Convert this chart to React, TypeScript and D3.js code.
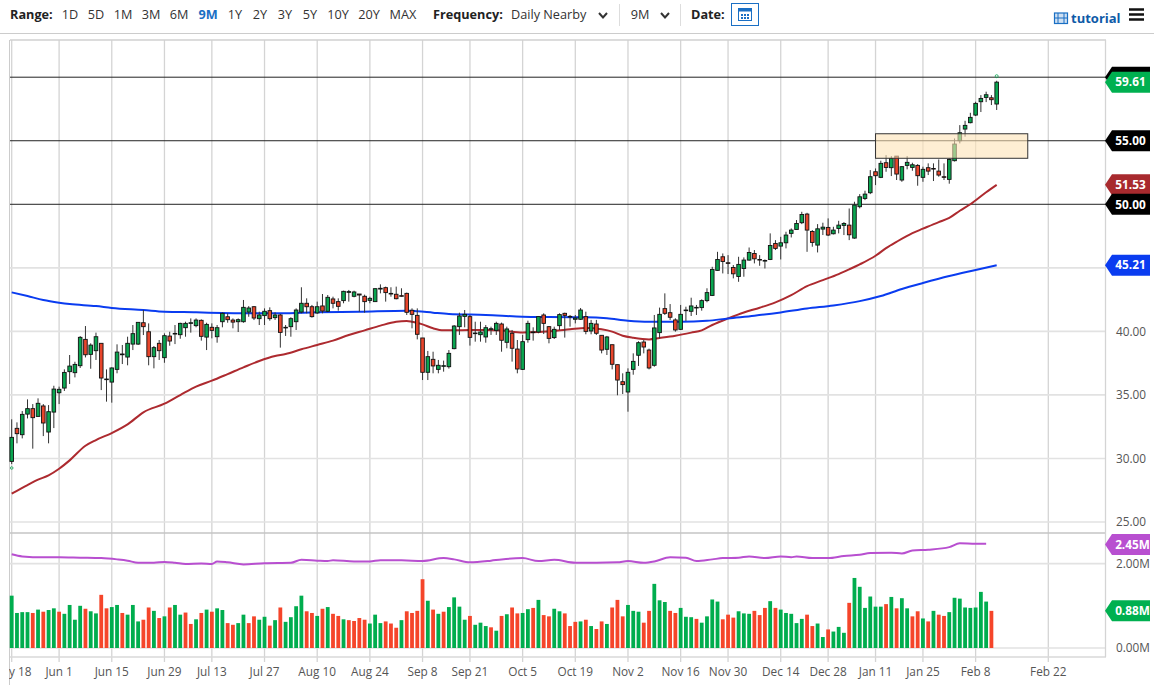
import * as d3 from 'd3'

const opens = [
  29.77,32.37,31.87,33.49,33.92,33.31,34.13,32.08,33.65,35.17,35.54,36.83,36.75,37.3,39.37,38.19,38.48,39.06,36.2,36.01,
  37.01,38.16,37.98,39.0,39.0,40.68,39.97,38.01,39.06,37.93,39.63,39.79,39.74,40.29,40.63,40.45,40.87,39.55,40.32,39.58,
  40.76,41.15,40.89,40.76,40.76,41.52,41.94,41.0,41.24,41.63,41.08,41.29,40.27,40.37,40.76,41.52,42.21,41.94,41.45,42.0,
  41.58,42.55,42.34,42.42,43.07,42.76,42.94,42.76,42.44,42.34,43.33,43.44,42.94,42.92,42.81,42.99,41.66,41.26,39.48,36.78,
  37.8,37.01,37.25,37.22,38.64,40.37,41.18,41.16,39.82,39.74,39.56,40.16,40.08,40.58,39.14,39.85,38.61,37.01,39.35,39.9,
  39.95,41.29,40.37,39.51,40.45,41.42,41.18,40.95,40.95,41.16,40.03,40.58,39.69,38.59,38.95,37.38,36.04,35.23,37.01,38.12,
  39.16,38.53,37.33,39.9,41.79,41.47,40.9,40.16,41.63,41.58,41.84,41.87,42.42,42.83,44.8,45.87,45.4,45.03,44.32,44.95,
  45.61,46.13,45.66,45.53,45.66,46.92,46.71,46.97,47.71,48.02,48.55,49.23,47.86,46.79,48.05,48.18,47.68,48.1,48.34,48.36,
  47.34,49.81,50.46,50.91,52.56,52.12,53.27,52.88,53.79,51.91,53.06,52.9,53.06,52.12,52.88,52.82,52.61,52.17,51.96,53.43,
  55.0,55.92,56.42,57.02,58.07,58.41,58.38,57.89,
]
const highs = [
  33.08,32.84,33.73,34.65,34.28,34.73,34.28,34.2,35.72,35.65,37.01,38.14,37.61,39.63,40.42,39.06,39.9,39.06,37.01,37.17,
  38.98,38.93,39.58,40.5,40.71,41.68,40.63,38.85,39.32,39.84,39.97,40.5,40.68,40.76,41.02,41.02,40.94,40.68,40.63,40.5,
  41.5,41.42,41.02,41.02,42.47,41.99,41.99,41.55,41.81,41.89,41.5,41.37,40.5,41.11,41.81,43.47,42.6,42.08,42.34,42.94,
  42.86,42.73,42.6,43.2,43.26,43.2,42.94,42.89,42.73,43.39,43.7,43.52,43.47,43.52,43.39,43.05,41.81,41.81,39.48,38.46,
  38.4,37.75,37.7,38.53,40.5,41.47,41.68,41.29,40.76,40.76,40.5,40.37,40.76,40.69,40.37,40.11,39.32,39.72,40.84,40.32,
  41.21,41.42,40.42,40.37,41.42,41.47,41.29,41.29,41.84,41.55,40.9,40.9,39.69,39.64,38.95,37.38,36.7,37.09,38.27,39.22,
  39.32,38.64,41.29,41.87,42.99,42.15,41.03,42.08,41.94,42.65,42.08,42.52,43.39,45.08,46.26,46.13,46.0,45.22,45.87,45.82,
  46.6,46.4,46.0,45.66,47.71,47.18,47.44,47.84,48.1,48.76,49.41,49.33,47.97,48.44,48.55,48.89,48.23,48.7,48.6,49.67,
  50.2,50.8,51.07,52.69,52.82,53.43,53.87,53.79,53.79,53.01,53.79,53.27,53.16,52.96,53.22,53.22,53.53,53.22,53.61,55.18,
  56.23,56.57,57.2,58.07,58.59,58.86,58.59,59.72,
]
const lows = [
  29.56,31.19,31.58,33.15,30.77,33.29,31.76,31.19,32.39,34.28,35.31,35.86,36.38,37.12,37.95,37.06,37.75,35.38,34.47,34.39,
  36.7,37.43,37.33,38.53,38.93,39.71,37.33,37.09,37.75,37.53,38.87,39.0,39.42,39.58,39.9,40.32,39.27,38.53,39.45,39.11,
  40.32,40.68,40.24,39.95,40.68,41.15,40.89,40.5,40.5,40.84,40.9,38.72,39.64,39.58,40.11,41.42,41.42,41.08,41.37,41.42,
  41.52,41.81,41.63,42.21,42.34,42.68,41.55,41.47,42.21,42.34,42.99,42.34,42.73,42.52,42.73,41.29,40.24,39.37,36.17,36.17,
  36.7,36.7,36.83,37.07,38.59,39.72,40.32,38.88,39.19,39.19,39.11,39.72,39.72,38.4,38.67,37.62,36.7,36.96,39.11,39.27,
  39.85,39.79,39.06,39.4,40.11,39.51,40.37,40.63,40.9,39.77,39.77,39.72,38.27,38.14,37.01,34.97,35.07,33.68,36.59,37.28,
  38.27,37.01,37.22,39.45,41.29,40.9,39.98,40.11,40.82,41.21,41.29,41.63,42.29,42.78,44.77,44.56,44.51,44.17,43.9,44.3,
  45.56,45.35,45.16,44.95,45.61,46.4,45.66,46.53,47.39,48.02,48.44,46.26,46.66,46.21,47.58,47.5,47.63,47.71,47.58,47.18,
  47.29,49.68,50.33,50.8,51.51,52.06,52.56,52.22,51.91,51.77,52.75,52.64,51.46,51.77,52.3,51.83,52.17,51.91,51.62,53.37,
  54.79,55.32,56.37,56.94,57.26,58.04,57.81,57.42,
]
const closes = [
  31.66,31.95,33.47,33.92,33.21,34.34,32.79,33.68,35.46,35.44,36.77,37.27,37.4,39.53,38.16,38.92,39.58,36.33,36.25,37.12,
  38.37,38.22,39.06,39.82,40.71,40.37,38.01,38.72,38.48,39.66,39.24,39.84,40.63,40.63,40.68,40.89,39.61,40.55,40.08,40.29,
  41.42,40.92,40.73,40.92,41.89,41.84,41.05,41.29,41.58,41.0,41.29,39.92,40.32,41.0,41.68,42.21,41.94,41.16,41.94,41.6,
  42.68,42.21,41.97,43.15,43.13,43.1,42.86,42.34,42.6,43.36,43.39,43.05,42.99,42.57,42.76,41.5,41.34,39.77,36.78,38.01,
  37.28,37.33,37.3,38.27,40.42,41.21,41.34,39.53,39.87,39.95,40.29,40.21,40.63,39.3,40.19,38.67,37.04,39.19,40.63,39.95,
  41.16,40.63,39.45,40.16,41.32,41.26,41.13,41.05,41.68,40.0,40.63,39.85,38.53,39.56,37.41,36.17,35.81,36.78,37.64,39.11,
  38.77,37.12,40.27,41.34,41.42,41.11,40.11,41.34,41.68,42.0,41.89,42.42,43.05,44.87,45.66,45.5,45.35,44.53,45.27,45.61,
  46.21,45.71,45.61,45.58,46.76,46.53,46.97,47.58,47.97,48.49,49.2,47.97,47.0,48.07,48.2,47.58,47.97,48.36,48.49,47.6,
  49.94,50.59,50.8,52.17,52.25,53.22,52.9,53.61,52.38,52.96,53.3,53.11,52.25,52.75,52.61,52.77,52.3,52.12,53.53,54.74,
  55.63,56.21,56.84,57.94,58.33,58.62,58.23,59.61,
]

const volumes = [
  1.24,.83,.85,.85,.83,.91,.86,.9,.94,.86,.81,1.02,.67,1.0,.93,.87,.82,1.26,.94,.97,
  1.02,.83,.79,1.02,.63,.67,.96,.88,.71,.75,.96,1.02,.79,.84,.57,.68,.83,.91,.86,.94,
  .9,.59,.55,.59,.79,.59,.75,.67,.74,.53,.66,.96,.62,.73,.99,1.24,.87,.83,.76,.93,
  .97,.81,.76,.68,.66,.64,.71,.67,.58,.79,.59,.63,.58,.48,.66,.87,.83,.88,1.63,1.12,
  .91,.81,.86,.97,1.2,.98,.67,.76,.55,.6,.52,.49,.41,.76,.8,.96,.82,.83,.92,.95,
  1.14,.78,.75,.93,.87,.82,.52,.62,.63,.67,.52,.45,.63,.57,.96,1.14,.75,1.02,.88,.86,
  .6,.88,1.52,1.13,1.09,.88,.83,.95,.74,.73,.69,.6,.75,1.15,1.1,.68,.79,.72,.87,.82,
  .81,.88,.78,.95,1.11,.95,.91,.83,.81,.59,.69,.79,.52,.58,.26,.44,.39,.5,.36,1.07,
  1.66,1.45,.95,1.22,.98,.98,1.04,1.21,.94,1.18,.94,.75,.87,.7,.63,.88,.79,.76,.85,1.19,
  1.17,.96,.95,.96,1.33,1.1,.88,
]
const volumeSides = [
  'ggggrgrggr','ggggrggrrg','grgggrrgrg','rggrrgrgrg','grrggrrggr','grggggrrgr','grrgrrrrgg','grrrgrrrrg',
  'rgrggggrgg','grgrgrrggr','grrggrrrgr','grrgrrrggg','rrgggrrggg','rggggrrrgg','grrrgrgggg','grrggrgggr',
  'ggggggrgrg','grrgrgrrgg','ggggggr',
].join('')

const redIdx = [0,3,5,7,9,11,14,16,19,22,25,29,32,35,38,41,44,47,50,52,55,58,61,64,67,70,73,75,76,78,80,82,84,87,90,93,97,100,103,106,109,112,114,116,118,121,123,126,129,131,133,136,139,142,145,148,151,154,157,159,161,164,166,168,171,173,176,178,180,182,185,187]
const redVals = [27.23,27.91,28.33,28.67,29.19,29.85,31.0,31.45,32.0,32.68,33.63,34.31,34.99,35.65,36.12,36.64,37.17,37.67,38.06,38.22,38.59,38.93,39.27,39.72,40.08,40.45,40.76,40.82,40.76,40.55,40.24,40.08,40.08,40.11,40.11,40.06,39.92,39.95,40.03,40.16,40.27,40.16,39.98,39.66,39.5,39.37,39.48,39.66,39.9,40.08,40.5,41.02,41.49,41.86,42.28,42.85,43.56,44.03,44.51,44.88,45.27,45.95,46.55,47.05,47.73,48.08,48.6,48.93,49.49,50.0,50.95,51.53]
const blueIdx = [0,3,6,9,11,16,19,25,29,35,40,44,47,51,58,66,75,77,80,83,90,97,102,109,113,117,121,124,127,132,136,141,146,151,156,161,165,169,173,178,183,187]
const blueVals = [43.07,42.78,42.47,42.26,42.15,41.99,41.84,41.68,41.55,41.5,41.44,41.42,41.42,41.42,41.5,41.55,41.63,41.58,41.47,41.37,41.29,41.16,41.13,41.11,41.03,40.84,40.76,40.76,40.76,40.83,41.02,41.23,41.49,41.8,42.04,42.38,42.78,43.33,43.8,44.35,44.83,45.21]
const avgIdx = [0,2,6,9,13,17,20,22,24,27,29,31,33,36,38,39,41,44,48,53,55,58,60,61,65,68,70,74,78,82,84,87,91,93,97,100,103,107,111,115,117,120,122,125,128,130,133,135,138,140,143,146,148,149,152,155,158,161,163,167,169,171,174,178,180,183,185]
const avgVals = [2.22,2.17,2.15,2.15,2.14,2.13,2.1,2.07,2.02,2.02,2.04,2.02,1.99,2.0,1.99,2.05,2.03,1.98,2.01,2.02,2.09,2.07,2.06,2.08,2.05,2.05,2.08,2.08,2.06,2.13,2.1,2.03,2.07,2.1,2.13,2.06,2.09,2.02,2.02,2.03,2.06,2.02,2.05,2.15,2.14,2.06,2.1,2.13,2.14,2.17,2.13,2.17,2.15,2.17,2.13,2.13,2.18,2.21,2.25,2.26,2.24,2.31,2.33,2.39,2.48,2.47,2.47]

const dateLabels = ['May 18','Jun 1','Jun 15','Jun 29','Jul 13','Jul 27','Aug 10','Aug 24','Sep 8','Sep 21','Oct 5','Oct 19','Nov 2','Nov 16','Nov 30','Dec 14','Dec 28','Jan 11','Jan 25','Feb 8','Feb 22']
const dateIdx = [0,9,19,29,38,48,58,68,78,87,97,107,117,127,136,146,155,164,173,183,196.8]
const priceTicks = [25,30,35,40,45]
const levelLines = [50,55,60]
const rangeLabels = ['1D','5D','1M','3M','6M','9M','1Y','2Y','3Y','5Y','10Y','20Y','MAX']
const rangeX = [70,96,123,151,179,208,235,260,285,310,338,369,403]

const GREEN = '#0aa550'
const RED = '#e8452b'
const font = '"Open Sans", sans-serif'

const x = d3.scaleLinear([0, 196.8], [11.7, 1048.3])
const y = d3.scaleLinear([25, 60], [522, 77.2])
const yVol = d3.scaleLinear([0, 2], [648, 563.6])

function Tag({ cy, fill, label, tx = 1130.5 }: { cy: number; fill: string; label: string; tx?: number }) {
  const h = 10.5
  const d = `M1105,${cy} L1112,${cy - h} H1150 V${cy + h} H1112 Z`
  return (
    <g>
      <path d={d} fill={fill} />
      <text x={tx} y={cy + 4.3} fill="#fff" fontSize={11.8} fontWeight={700} textAnchor="middle">
        {label}
      </text>
    </g>
  )
}

function Toolbar() {
  const chevron = (cx: number) => (
    <path d={`M${cx - 4},13 L${cx},17.5 L${cx + 4},13`} fill="none" stroke="#333" strokeWidth={2} />
  )
  return (
    <g fontSize={12.7} fill="#333">
      <text x={10} y={18.5} fontWeight={700} fill="#222">Range:</text>
      {rangeLabels.map((r, i) => (
        <text
          key={r}
          x={rangeX[i]}
          y={18.5}
          textAnchor="middle"
          fontWeight={r === '9M' ? 700 : 400}
          fill={r === '9M' ? '#1a6fc4' : '#333'}
        >
          {r}
        </text>
      ))}
      <text x={433} y={18.5} fontWeight={700} fill="#222">Frequency:</text>
      <text x={511} y={18.5}>Daily Nearby</text>
      {chevron(603)}
      <line x1={619.5} x2={619.5} y1={4} y2={26} stroke="#ddd" />
      <text x={640} y={18.5} textAnchor="middle">9M</text>
      {chevron(665)}
      <line x1={680.5} x2={680.5} y1={4} y2={26} stroke="#ddd" />
      <text x={691} y={18.5} fontWeight={700} fill="#222">Date:</text>
      <rect x={731.5} y={3.5} width={27} height={22} fill="#fff" stroke="#1a6fc4" />
      <rect x={738.5} y={8.5} width={13} height={12} fill="#fff" stroke="#1a6fc4" />
      <rect x={738.5} y={8.5} width={13} height={3} fill="#1a6fc4" />
      {[741, 744, 747].map((cx) =>
        [14, 17].map((cy) => <rect key={`${cx}-${cy}`} x={cx} y={cy} width={2} height={2} fill="#1a6fc4" />)
      )}
      <rect x={1054.5} y={13} width={13} height={10.5} fill="#cfe0f2" stroke="#1a6fc4" strokeWidth={1.2} />
      <path d="M1058,13 V23.5 M1064,13 V23.5 M1054.5,18 H1067.5" stroke="#1a6fc4" strokeWidth={1} />
      <text x={1071} y={23} fontWeight={700} fontSize={13} fill="#0e5aa7">tutorial</text>
      {[9.5, 14.5, 19.5].map((ly) => (
        <line key={ly} x1={1129} x2={1144} y1={ly} y2={ly} stroke="#111" strokeWidth={2.5} />
      ))}
    </g>
  )
}

export default function App() {
  const priceLine = d3
    .line<number>()
    .x((_, i) => x(redIdx[i]))
    .y((d) => y(d))
    .curve(d3.curveMonotoneX)
  const blueLine = d3
    .line<number>()
    .x((_, i) => x(blueIdx[i]))
    .y((d) => y(d))
    .curve(d3.curveMonotoneX)
  const avgLine = d3
    .line<number>()
    .x((_, i) => x(avgIdx[i]))
    .y((d) => yVol(d))
    .curve(d3.curveMonotoneX)
  const bodyW = 3.6

  return (
    <svg
      width={1159}
      height={685}
      style={{ position: 'absolute', left: 0, top: 0, display: 'block', background: '#fff' }}
      fontFamily={font}
    >
      <defs>
        <clipPath id="axisClip">
          <rect x={9} y={657} width={1100} height={28} />
        </clipPath>
      </defs>
      <Toolbar />
      <line x1={0} x2={1154} y1={33.5} y2={33.5} stroke="#ccc" />

      {/* grid */}
      {dateIdx.map((d) => (
        <line key={d} x1={x(d)} x2={x(d)} y1={40} y2={662} stroke="#d4d4d4" strokeWidth={1.3} />
      ))}
      {priceTicks.map((t) => (
        <line key={t} x1={10} x2={1106} y1={y(t)} y2={y(t)} stroke="#e2e2e2" strokeWidth={1.6} />
      ))}
      {[0, 2].map((t) => (
        <line key={t} x1={10} x2={1106} y1={yVol(t)} y2={yVol(t)} stroke="#e2e2e2" strokeWidth={1.6} />
      ))}
      <line x1={10} x2={1106} y1={40} y2={40} stroke="#d0d0d0" strokeWidth={1.3} />
      <line x1={10} x2={1106} y1={533} y2={533} stroke="#c4c4c4" strokeWidth={1.6} />
      <line x1={10} x2={1106} y1={657} y2={657} stroke="#d8d8d8" strokeWidth={1.6} />
      <line x1={9.5} x2={9.5} y1={40} y2={685} stroke="#ccc" />
      <line x1={1105.5} x2={1105.5} y1={40} y2={657} stroke="#d4d4d4" strokeWidth={1.3} />

      {levelLines.map((l) => (
        <line key={l} x1={10} x2={1106} y1={y(l)} y2={y(l)} stroke="#222" strokeWidth={1} />
      ))}

      {/* moving averages */}
      <path d={priceLine(redVals) || undefined} fill="none" stroke="#ad2a2f" strokeWidth={2} />
      <path d={blueLine(blueVals) || undefined} fill="none" stroke="#0a3cf0" strokeWidth={2} />

      {/* candles */}
      {closes.map((c, i) => {
        const o = opens[i]
        const top = y(Math.max(o, c))
        const h = Math.max(Math.abs(y(o) - y(c)), 0.6)
        return (
          <g key={i}>
            <line x1={x(i)} x2={x(i)} y1={y(highs[i])} y2={y(lows[i])} stroke="#333" strokeWidth={1} />
            <rect
              x={x(i) - bodyW / 2}
              y={top}
              width={bodyW}
              height={h}
              fill={c >= o ? GREEN : RED}
              stroke="#111"
              strokeWidth={0.9}
            />
          </g>
        )
      })}
      <circle cx={x(187)} cy={y(60.08)} r={1.5} fill="none" stroke={GREEN} strokeWidth={0.8} />
      <circle cx={x(0)} cy={y(29.25)} r={1.3} fill="none" stroke={GREEN} strokeWidth={0.8} />

      {/* highlight box */}
      <rect
        x={x(164)}
        y={y(55.55)}
        width={x(192.9) - x(164)}
        height={y(53.62) - y(55.55)}
        fill="#fde3b5"
        fillOpacity={0.6}
        stroke="#333"
        strokeWidth={1}
      />

      {/* volume */}
      {volumes.map((v, i) => (
        <rect
          key={i}
          x={x(i) - 1.9}
          y={yVol(v)}
          width={3.8}
          height={yVol(0) - yVol(v)}
          fill={volumeSides[i] === 'g' ? '#00ad4e' : '#f5452a'}
        />
      ))}
      <path d={avgLine(avgVals) || undefined} fill="none" stroke="#b84fd0" strokeWidth={2} />

      {/* x axis */}
      <g clipPath="url(#axisClip)" fontSize={11.8} fill="#555" textAnchor="middle">
        {dateLabels.map((d, i) => (
          <text key={d} x={x(dateIdx[i])} y={676}>
            {d}
          </text>
        ))}
      </g>

      {/* y axis */}
      <g fontSize={11.8} fill="#555" textAnchor="middle">
        {[25, 30, 35, 40].map((t) => (
          <text key={t} x={1131} y={y(t) + 4.3}>
            {t.toFixed(2)}
          </text>
        ))}
        <text x={1133} y={yVol(2) + 4.3}>2.00M</text>
        <text x={1133} y={yVol(0) + 4.3}>0.00M</text>
      </g>

      <Tag cy={y(60)} fill="#000" label="" />
      <Tag cy={y(closes[187])} fill="#00b050" label={closes[187].toFixed(2)} />
      <Tag cy={y(55)} fill="#000" label="55.00" />
      <Tag cy={y(redVals[redVals.length - 1])} fill="#a82a2e" label="51.53" />
      <Tag cy={y(50)} fill="#000" label="50.00" />
      <Tag cy={y(blueVals[blueVals.length - 1])} fill="#0a3cf0" label="45.21" />
      <Tag cy={yVol(2.45)} fill="#b84fd0" label="2.45M" tx={1132.5} />
      <Tag cy={yVol(volumes[186])} fill="#00b050" label="0.88M" tx={1132.5} />
    </svg>
  )
}
